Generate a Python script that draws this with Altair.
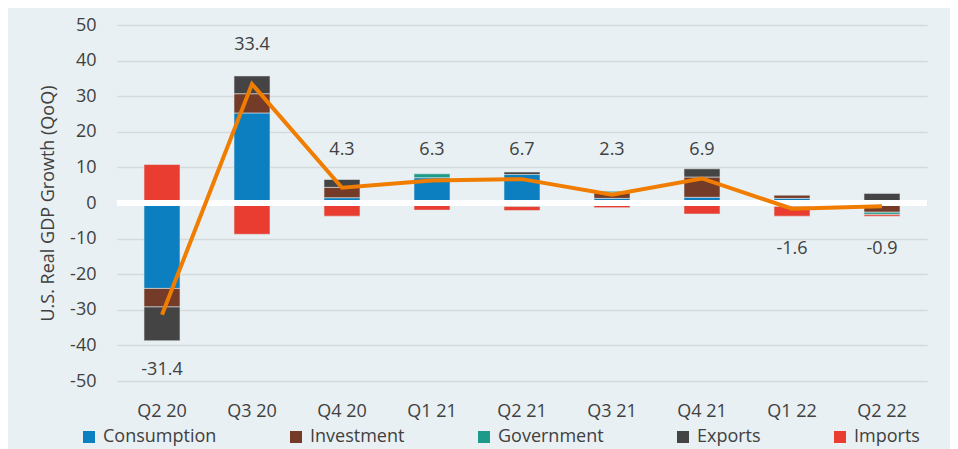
import altair as alt
import pandas as pd

quarters = ["Q2 20", "Q3 20", "Q4 20", "Q1 21", "Q2 21", "Q3 21", "Q4 21", "Q1 22", "Q2 22"]
series = ["Consumption", "Investment", "Government", "Exports", "Imports"]
consumption = [-24.0, 25.3, 1.5, 7.1, 8.0, 1.3, 1.6, 1.3, 0.0]
investment = [-5.2, 5.4, 2.9, 0.0, 0.0, 1.6, 5.7, 0.9, -2.6]
government = [0.0, 0.0, 0.0, 1.1, -1.0, 0.4, 0.0, 0.0, -0.6]
exports = [-9.5, 5.0, 2.2, 0.0, 0.7, 0.0, 2.3, -1.0, 2.7]
imports = [10.8, -8.8, -3.7, -2.0, -1.1, -1.3, -3.1, -2.7, -0.5]
gdp = [-31.4, 33.4, 4.3, 6.3, 6.7, 2.3, 6.9, -1.6, -0.9]
y_ticks = [-50, -40, -30, -20, -10, 0, 10, 20, 30, 40, 50]
colors = ["#0B7FBF", "#733B28", "#1E9A8B", "#444444", "#E83D30"]

FONT = "Open Sans"
TXT = "#404040"
HYPHEN = "replace(datum.label, '\u2212', '-')"

rows = []
for i, q in enumerate(quarters):
    for k, vals in enumerate([consumption, investment, government, exports, imports]):
        if vals[i] != 0:
            rows.append({"q": q, "series": series[k], "ord": k, "value": vals[i]})
bars_df = pd.DataFrame(rows)
line_df = pd.DataFrame({"q": quarters, "gdp": gdp})

xenc = alt.X(
    "q:N", sort=quarters, title=None,
    scale=alt.Scale(paddingInner=0.6, paddingOuter=0.3),
    axis=alt.Axis(labelFontSize=18, labelColor=TXT, labelPadding=21, ticks=False,
                  tickSize=0, domain=False, grid=False, labelAngle=0, labelFont=FONT),
)
yscale = alt.Scale(domain=[-50, 50], nice=False, zero=False)
yaxis = alt.Axis(values=y_ticks, tickCount=len(y_ticks), title="U.S. Real GDP Growth (QoQ)",
                 titleFontSize=18, titleFontWeight="normal", titleColor=TXT, titleFont=FONT,
                 titlePadding=12, labelFontSize=18, labelColor=TXT, labelFont=FONT,
                 labelPadding=21, ticks=False, tickSize=0, domain=False,
                 labelOverlap=False, labelExpr=HYPHEN,
                 gridColor="#D6D9DB", gridWidth=1.3)

bars = alt.Chart(bars_df).mark_bar(stroke="#E0E6E9", strokeWidth=0.6).encode(
    x=xenc,
    y=alt.Y("value:Q", scale=yscale, axis=yaxis, stack="zero"),
    color=alt.Color("series:N", scale=alt.Scale(domain=series, range=colors),
                    legend=alt.Legend(orient="none", legendX=-37, legendY=403,
                                      direction="horizontal", title=None,
                                      symbolType="square", symbolSize=144,
                                      symbolStrokeWidth=0, labelFontSize=18,
                                      labelFont=FONT, labelColor=TXT,
                                      columnPadding=70, labelOffset=5, padding=0)),
    order=alt.Order("ord:Q"),
)

zero = alt.Chart(line_df).mark_rule(color="white", strokeWidth=5).encode(
    y=alt.YDatum(0, scale=yscale, axis=yaxis)
)

line = alt.Chart(line_df).mark_line(color="#F07D00", strokeWidth=4).encode(
    x=xenc,
    y=alt.Y("gdp:Q", scale=yscale, axis=yaxis),
)

labels = alt.Chart(line_df).transform_calculate(
    label_y="datum.gdp > 20 ? datum.gdp + 11 : (datum.gdp < -20 ? datum.gdp - 15.4 : (datum.gdp > 0 ? 15 : -12.8))",
    label_txt="replace(format(datum.gdp, '.1f'), '\u2212', '-')",
).mark_text(fontSize=18, font=FONT, color=TXT).encode(
    x=xenc,
    y=alt.Y("label_y:Q", scale=yscale, axis=yaxis),
    text="label_txt:N",
)

chart = alt.layer(bars, zero, line, labels).properties(
    width=810, height=356,
    autosize=alt.AutoSizeParams(type="none"),
    padding={"left": 109, "top": 17, "right": 23, "bottom": 68},
    background="#E8F0F3",
).configure_view(stroke=None)

chart.save("out.html", embed_options={"renderer": "svg", "actions": False})
